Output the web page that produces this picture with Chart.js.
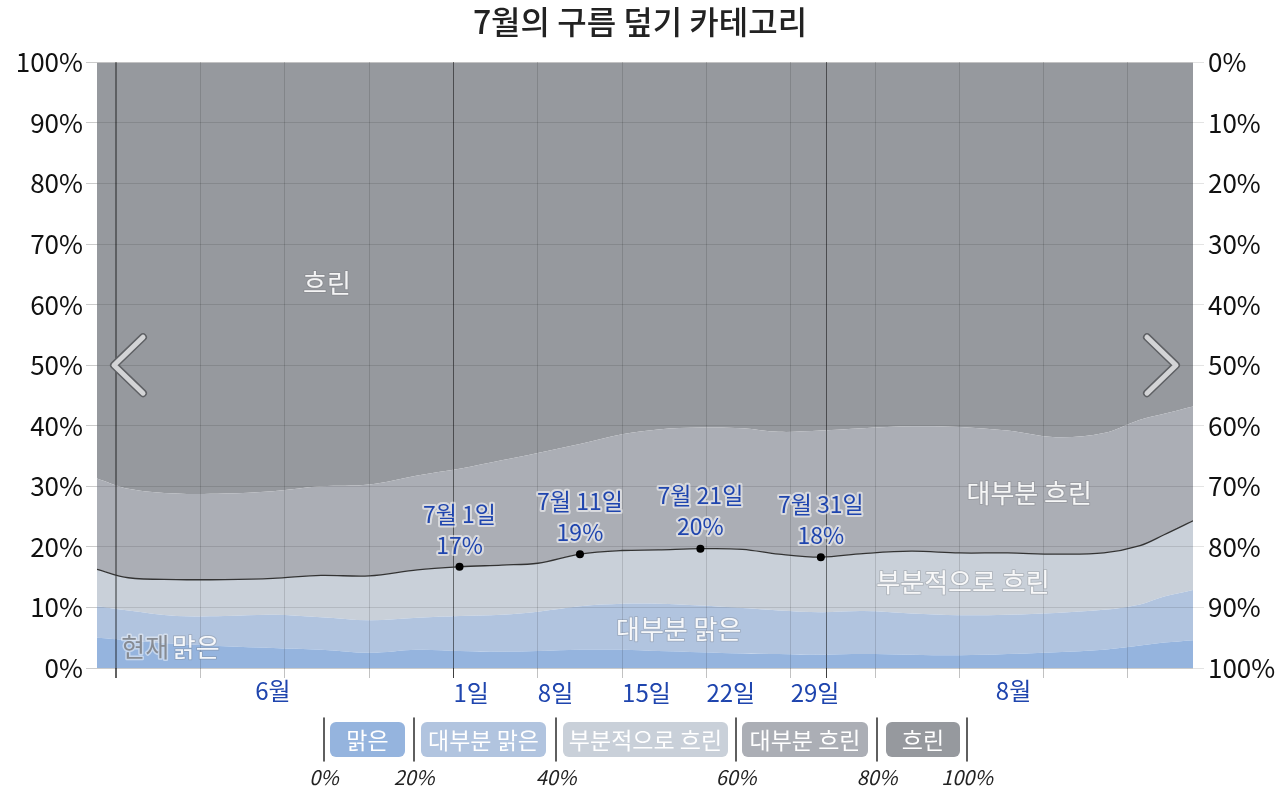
<!DOCTYPE html>
<html lang="ko">
<head>
<meta charset="utf-8">
<title>7월의 구름 덮기 카테고리</title>
<script src="https://cdn.jsdelivr.net/npm/chart.js@4.4.1/dist/chart.umd.min.js"></script>
<style>
  html, body { margin: 0; padding: 0; background: #fff; }
  #wrap { width: 1280px; height: 805px; }
</style>
</head>
<body>
<div id="wrap"><canvas id="cloud-chart" width="1280" height="805"></canvas></div>
<script>
// ── Datos: día 0 = 6월 1일 00시, valores en % del tiempo ─────────────────
const days = [0.4, 3, 7, 11, 15, 19, 23, 27, 30.5, 34, 37, 40.5, 44, 47, 50.5, 54, 57, 60.5, 64, 68, 72, 76, 80, 84, 87, 89, 91.4]

const clear        = [5.0, 4.6, 4.0, 3.6, 3.3, 3.0, 2.5, 3.0, 2.8, 2.7, 2.8, 3.0, 3.0, 2.8, 2.6, 2.4, 2.3, 2.2, 2.3, 2.2, 2.1, 2.3, 2.6, 3.0, 3.7, 4.2, 4.6]
const mostlyClear  = [5.2, 4.9, 4.6, 5.0, 5.5, 5.4, 5.4, 5.3, 5.8, 6.1, 6.5, 7.2, 7.6, 7.8, 7.7, 7.5, 7.2, 7.0, 7.1, 6.8, 6.6, 6.5, 6.5, 6.6, 6.8, 7.6, 8.3]
const partlyCloudy = [6.1, 5.4, 6.0, 6.0, 6.0, 6.9, 7.3, 7.9, 8.1, 8.2, 8.0, 8.6, 8.8, 8.9, 9.4, 9.7, 9.3, 9.1, 9.5, 10.3, 10.3, 10.2, 9.7, 9.4, 9.7, 10.2, 11.4]
const mostlyCloudy = [15.0, 14.7, 14.2, 14.2, 14.4, 14.7, 15.1, 15.6, 16.2, 17.3, 18.2, 18.2, 19.2, 19.9, 20.0, 20.0, 20.2, 20.9, 20.7, 20.6, 20.8, 20.2, 19.3, 19.8, 20.8, 20.0, 18.9]
const overcast     = [68.7, 70.4, 71.2, 71.2, 70.8, 70.0, 69.7, 68.2, 67.1, 65.7, 64.5, 63.0, 61.4, 60.6, 60.3, 60.4, 61.0, 60.8, 60.4, 60.1, 60.2, 60.8, 61.9, 61.2, 59.0, 58.0, 56.8]

const bandNames = ["맑은", "대부분 맑은", "부분적으로 흐린", "대부분 흐린", "흐린"]
const bandPercents = ["0%", "20%", "40%", "60%", "80%", "100%"]

// marcas semanales del eje x
const tickDays   = [2, 9, 16, 23, 30, 37, 44, 51, 58, 61, 65, 72, 79, 86]
const tickLabels = ["", "", "", "", "1일", "8일", "15일", "22일", "29일", "", "", "", "", ""]
const monthDays   = [15, 76.5]
const monthLabels = ["6월", "8월"]
const monthStarts = [30, 61]
const nowDay = 2

// días anotados sobre la línea negra
const annotDays   = [30.5, 40.5, 50.5, 60.5]
const annotLabels = ["7월 1일", "7월 11일", "7월 21일", "7월 31일"]

// ── Estilo ────────────────────────────────────────────────────────────────
const FONT = "'Noto Sans CJK KR', 'Noto Sans', sans-serif"
const BLUE = "#1f45ae"
const bandColors = ["#95b4de", "#b1c4df", "#c9d0d9", "#abaeb5", "#96999e"]

const bandSeries = [clear, mostlyClear, partlyCloudy, mostlyCloudy, overcast]
const lineValues = days.map((d, i) => +(clear[i] + mostlyClear[i] + partlyCloudy[i]).toFixed(1))

// etiquetas dentro de las bandas (día, %)
const bandLabelSpots = [
  { text: "흐린",           day: 19.5, value: 63.5 },
  { text: "대부분 흐린",     day: 77.8, value: 28.9 },
  { text: "부분적으로 흐린", day: 72.3, value: 14.2 },
  { text: "대부분 맑은",     day: 48.7, value: 6.4 },
  { text: "맑은",           day: 8.6,  value: 3.5 }
]

Chart.defaults.font.family = FONT

const datasets = bandSeries.map((vals, i) => ({
  label: bandNames[i],
  data: days.map((d, j) => ({ x: d, y: vals[j] })),
  backgroundColor: bandColors[i],
  borderWidth: 0,
  fill: i === 0 ? "origin" : "-1",
  pointRadius: 0,
  tension: 0.35,
  stack: "bands",
  order: 1
}))

datasets.push({
  label: "line",
  data: days.map((d, j) => ({ x: d, y: lineValues[j] })),
  borderColor: "#333",
  borderWidth: 1.3,
  fill: false,
  tension: 0.35,
  stack: "line",
  order: 0,
  pointRadius: c => annotDays.includes(days[c.dataIndex]) ? 4 : 0,
  pointBackgroundColor: "#000",
  pointBorderWidth: 0
})

function drawHaloText(ctx, text, x, y, fill, stroke, width) {
  ctx.lineJoin = "round"
  ctx.strokeStyle = stroke
  ctx.lineWidth = width
  ctx.strokeText(text, x, y)
  ctx.fillStyle = fill
  ctx.fillText(text, x, y)
}

function drawChevron(ctx, pts) {
  ctx.lineCap = "round"
  ctx.lineJoin = "round"
  ctx.beginPath()
  ctx.moveTo(pts[0][0], pts[0][1])
  ctx.lineTo(pts[1][0], pts[1][1])
  ctx.lineTo(pts[2][0], pts[2][1])
  ctx.strokeStyle = "#5e6064"
  ctx.lineWidth = 8
  ctx.stroke()
  ctx.strokeStyle = "#d3d4d6"
  ctx.lineWidth = 5
  ctx.stroke()
}

function roundRect(ctx, x, y, w, h, r) {
  ctx.beginPath()
  ctx.moveTo(x + r, y)
  ctx.arcTo(x + w, y, x + w, y + h, r)
  ctx.arcTo(x + w, y + h, x, y + h, r)
  ctx.arcTo(x, y + h, x, y, r)
  ctx.arcTo(x, y, x + w, y, r)
  ctx.closePath()
}

const overlayPlugin = {
  id: "overlay",
  // la cuadrícula va encima de las bandas y debajo de la línea negra
  beforeDatasetDraw(chart, args) {
    if (args.index !== 5) return
    chart.scales.y.drawGrid(chart.chartArea)
    chart.scales.x.drawGrid(chart.chartArea)
  },
  afterDatasetsDraw(chart) {
    const { ctx, chartArea, scales } = chart
    const sx = scales.x, sy = scales.y
    ctx.save()

    // meses en el eje x
    ctx.font = `24px ${FONT}`
    ctx.textAlign = "center"
    ctx.textBaseline = "middle"
    ctx.fillStyle = BLUE
    monthDays.forEach((d, i) => ctx.fillText(monthLabels[i], sx.getPixelForValue(d), chartArea.bottom + 23))

    // etiquetas de banda
    ctx.font = `26px ${FONT}`
    bandLabelSpots.forEach(s => {
      drawHaloText(ctx, s.text, sx.getPixelForValue(s.day), sy.getPixelForValue(s.value),
        "rgba(255,255,255,0.9)", "rgba(110,110,115,0.25)", 2)
    })
    drawHaloText(ctx, "현재", sx.getPixelForValue(nowDay) + 29, sy.getPixelForValue(3.5),
      "#878b92", "rgba(255,255,255,0.45)", 3)

    // anotaciones
    ctx.font = `23px ${FONT}`
    const meta = chart.getDatasetMeta(5)
    annotDays.forEach((d, k) => {
      const idx = days.indexOf(d)
      const pt = meta.data[idx]
      const pct = Math.round(lineValues[idx]) + "%"
      drawHaloText(ctx, annotLabels[k], pt.x, pt.y - 53, BLUE, "rgba(255,255,255,0.55)", 4)
      drawHaloText(ctx, pct, pt.x, pt.y - 22, BLUE, "rgba(255,255,255,0.55)", 4)
    })

    // flechas de navegación
    const midY = sy.getPixelForValue(50)
    drawChevron(ctx, [[chartArea.left + 46, midY - 28], [chartArea.left + 17, midY], [chartArea.left + 46, midY + 28]])
    drawChevron(ctx, [[chartArea.right - 46, midY - 28], [chartArea.right - 17, midY], [chartArea.right - 46, midY + 28]])

    // leyenda inferior
    const seps = [324, 414, 556, 736, 877, 967]
    const boxes = [[330, 405], [421, 546], [563, 728], [742, 868], [886, 960]]
    ctx.strokeStyle = "#2a2a2a"
    ctx.lineWidth = 1.5
    seps.forEach(x => {
      ctx.beginPath()
      ctx.moveTo(x, 718)
      ctx.lineTo(x, 761)
      ctx.stroke()
    })
    ctx.font = `23px ${FONT}`
    boxes.forEach((b, i) => {
      roundRect(ctx, b[0], 722, b[1] - b[0], 35, 6)
      ctx.fillStyle = bandColors[i]
      ctx.fill()
      ctx.fillStyle = "#fff"
      ctx.fillText(bandNames[i], (b[0] + b[1]) / 2, 740)
    })
    ctx.font = `italic 20px ${FONT}`
    ctx.fillStyle = "#222"
    seps.forEach((x, i) => ctx.fillText(bandPercents[i], x, 777))

    ctx.restore()
  }
}

new Chart(document.getElementById("cloud-chart"), {
  type: "line",
  data: { datasets },
  plugins: [overlayPlugin],
  options: {
    responsive: false,
    animation: false,
    events: [],
    layout: { padding: { left: 0, right: 0, top: 0, bottom: 97 } },
    plugins: {
      legend: { display: false },
      tooltip: { enabled: false },
      title: {
        display: true,
        text: "7월의 구름 덮기 카테고리",
        color: "#222",
        font: { size: 32, weight: "500" },
        padding: { top: 3, bottom: 21 }
      }
    },
    scales: {
      x: {
        type: "linear",
        min: 0.4,
        max: 91.4,
        afterBuildTicks: s => { s.ticks = tickDays.map(v => ({ value: v })) },
        afterFit: s => { s.height = 40 },
        border: { display: false },
        grid: {
          tickLength: 10,
          color: c => {
            const v = c.tick ? c.tick.value : null
            if (v === nowDay) return "rgba(0,0,0,0.38)"
            if (monthStarts.includes(v)) return "rgba(0,0,0,0.5)"
            return "rgba(0,0,0,0.13)"
          },
          lineWidth: c => (c.tick && c.tick.value === nowDay) ? 2 : 1
        },
        ticks: {
          autoSkip: false,
          maxRotation: 0,
          align: "start",
          padding: 0,
          color: BLUE,
          font: { size: 24 },
          callback: (v, i) => tickLabels[i]
        }
      },
      y: {
        stacked: true,
        min: 0,
        max: 100,
        afterFit: s => { s.width = 97 },
        border: { display: false },
        grid: { color: "rgba(0,0,0,0.11)", tickLength: 11 },
        ticks: {
          stepSize: 10,
          padding: 3,
          color: "#111",
          font: { size: 26 },
          callback: v => v + "%"
        }
      },
      y2: {
        position: "right",
        reverse: true,
        min: 0,
        max: 100,
        afterFit: s => { s.width = 87 },
        border: { display: false },
        grid: { drawOnChartArea: false, color: "rgba(0,0,0,0.11)", tickLength: 11 },
        ticks: {
          stepSize: 10,
          padding: 4,
          color: "#111",
          font: { size: 26 },
          callback: v => v + "%"
        }
      }
    }
  }
})
</script>
</body>
</html>
